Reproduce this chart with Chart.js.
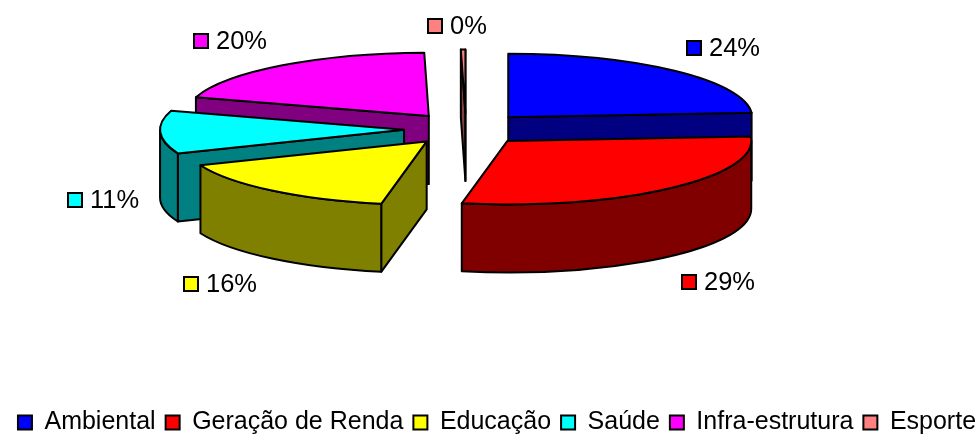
<!DOCTYPE html>
<html>
<head>
<meta charset="utf-8">
<style>html,body{margin:0;padding:0;background:#fff}canvas{display:block}</style>
<script src="https://cdn.jsdelivr.net/npm/chart.js@4"></script>
</head>
<body>
<canvas id="c" width="979" height="435"></canvas>
<script>
const categories = ['Ambiental','Geração de Renda','Educação','Saúde','Infra-estrutura','Esporte'];
const values = [24, 29.3, 16, 11, 20, 0.3];
const topColors = ['#0000FF','#FF0000','#FFFF00','#00FFFF','#FF00FF','#FF8080'];
const sideColors = ['#000080','#800000','#808000','#008080','#800080','#804040'];
const labelAnchors = [[687,41],[682,275],[184,277],[68,193],[194,34],[428,19]];

const FONT = '"Liberation Sans", Arial, sans-serif';
const view = {cx:466, cy:129, tilt:0.26, depth:68, explode:62, line:2};

const pie3d = {
  id:'pie3d',
  beforeDatasetDraw(chart, args){
    const ctx = chart.ctx;
    const arcs = args.meta.data;
    const geo = arcs.map((arc,i)=>{
      const mid = (arc.startAngle+arc.endAngle)/2;
      return {arc,i,
        x: view.cx + Math.cos(mid)*view.explode,
        y: view.cy + Math.sin(mid)*view.explode*view.tilt,
        rx: arc.outerRadius, ry: arc.outerRadius*view.tilt};
    }).sort((a,b)=>a.y-b.y);
    ctx.save();
    ctx.lineJoin='round';
    ctx.lineWidth=view.line;
    ctx.strokeStyle='#000';
    const paint = (col)=>{ctx.fillStyle=col;ctx.fill();ctx.stroke();};
    geo.forEach(g=>{
      const {arc,i,x,y,rx,ry}=g, a0=arc.startAngle, a1=arc.endAngle, d=view.depth;
      const face = (a)=>{
        const px=x+Math.cos(a)*rx, py=y+Math.sin(a)*ry;
        ctx.beginPath();ctx.moveTo(x,y);ctx.lineTo(px,py);ctx.lineTo(px,py+d);ctx.lineTo(x,y+d);ctx.closePath();
        paint(sideColors[i]);
      };
      if(Math.cos(a0)<0) face(a0);
      if(Math.cos(a1)>0) face(a1);
      const w0=Math.max(a0,0), w1=Math.min(a1,Math.PI);
      if(w1>w0){
        ctx.beginPath();
        ctx.ellipse(x,y,rx,ry,0,w0,w1);
        ctx.ellipse(x,y+d,rx,ry,0,w1,w0,true);
        ctx.closePath();
        paint(sideColors[i]);
      }
      ctx.save();
      ctx.translate(x,y);ctx.scale(1,view.tilt);ctx.translate(-arc.x,-arc.y);
      arc.draw(ctx);
      ctx.restore();
      ctx.beginPath();
      ctx.moveTo(x,y);
      ctx.ellipse(x,y,rx,ry,0,a0,a1);
      ctx.closePath();
      ctx.stroke();
    });
    ctx.restore();
    return false;
  },
  afterDatasetsDraw(chart){
    const ctx=chart.ctx;
    const total=values.reduce((s,v)=>s+v,0);
    ctx.save();
    ctx.font='25.5px '+FONT;
    ctx.textBaseline='middle';
    ctx.textAlign='left';
    values.forEach((v,i)=>{
      const [bx,by]=labelAnchors[i];
      ctx.fillStyle=topColors[i];
      ctx.strokeStyle='#000';
      ctx.lineWidth=2;
      ctx.fillRect(bx,by,14,14);
      ctx.strokeRect(bx,by,14,14);
      ctx.fillStyle='#000';
      ctx.fillText(Math.round(v/total*100)+'%',bx+22,by+8);
    });
    ctx.restore();
  }
};

new Chart(document.getElementById('c'),{
  type:'pie',
  data:{labels:categories,datasets:[{data:values,backgroundColor:topColors,borderWidth:0}]},
  options:{
    responsive:false,animation:false,
    radius:244,
    layout:{padding:{left:7.5,right:-7.5,top:0,bottom:-10}},
    plugins:{
      tooltip:{enabled:false},
      legend:{
        position:'bottom',
        labels:{
          font:{family:FONT,size:25},color:'#000',
          boxWidth:14,boxHeight:14,padding:10,
          generateLabels(chart){
            return categories.map((t,i)=>({text:t,fillStyle:topColors[i],strokeStyle:'#000',lineWidth:2,index:i}));
          }
        }
      }
    }
  },
  plugins:[pie3d]
});
</script>
</body>
</html>
